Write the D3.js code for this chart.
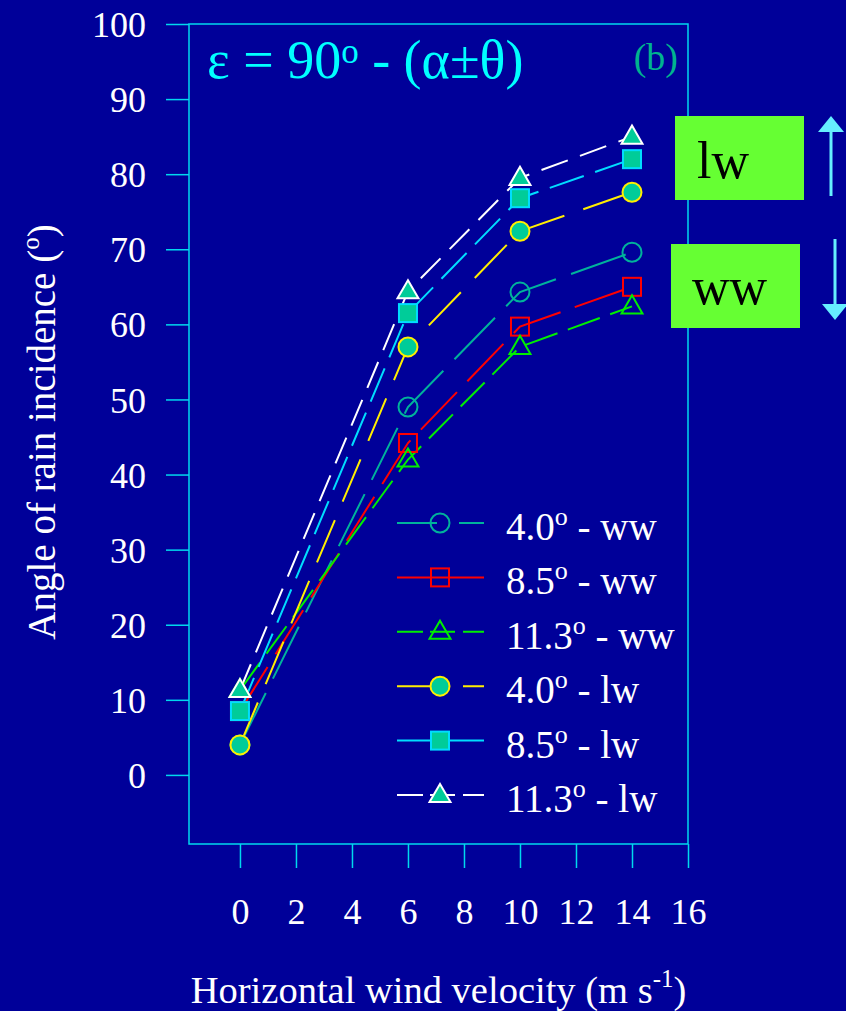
<!DOCTYPE html>
<html>
<head>
<meta charset="utf-8">
<script src="https://cdn.jsdelivr.net/npm/d3@7"></script>
<style>
  body { margin: 0; background: #000099; }
  svg text { font-family: "Liberation Serif", "Times New Roman", serif; }
</style>
</head>
<body>
<div id="chart"></div>
<script>
// data
var speeds = [0, 6, 10, 14];
var ww40 = [4.0, 49.0, 64.3, 69.6];
var ww85 = [8.5, 44.2, 59.7, 65.0];
var ww113 = [11.3, 42.0, 57.0, 62.4];
var lw40 = [4.0, 57.0, 72.4, 77.6];
var lw85 = [8.5, 61.5, 76.8, 82.0];
var lw113 = [11.3, 64.4, 79.5, 85.0];
var names = ["4.0", "8.5", "11.3", "4.0", "8.5", "11.3"];
var sides = ["ww", "ww", "ww", "lw", "lw", "lw"];
var xTicks = [0, 2, 4, 6, 8, 10, 12, 14, 16];
var yTicks = [0, 10, 20, 30, 40, 50, 60, 70, 80, 90, 100];

var W = 846, H = 1011;
var frame = {left: 189, right: 688, top: 24, bottom: 844};
var fill = "#00cc99";

var series = [
  {vals: ww40, shape: "circle", stroke: "#00b39b", fill: "none", dash: "58,16", leg: "40,22,26"},
  {vals: ww85, shape: "square", stroke: "#ff0000", fill: "none", dash: "52,15", leg: null},
  {vals: ww113, shape: "triangle", stroke: "#00ee00", fill: "none", dash: "34,11", leg: "26,7,25,8,22"},
  {vals: lw40, shape: "circle", stroke: "#ffee00", fill: fill, dash: "46,20", leg: "44,22,22"},
  {vals: lw85, shape: "square", stroke: "#00ddff", fill: fill, dash: "36,12", leg: null},
  {vals: lw113, shape: "triangle", stroke: "#ffffff", fill: fill, dash: "28,13", leg: "26,7,25,8,22"}
];

var svg = d3.select("#chart").append("svg")
  .attr("width", W).attr("height", H);

svg.append("rect").attr("width", W).attr("height", H).attr("fill", "#000099");

var x = d3.scaleLinear().domain([-1.82, 16]).range([frame.left, frame.right]);
var y = d3.scaleLinear().domain([-9.2, 100]).range([frame.bottom, frame.top]);

var axCol = "#00d8ee";

// y axis ticks, outside to the left
var yAxis = svg.append("g").attr("transform", "translate(" + frame.left + ",0)")
  .call(d3.axisLeft(y).tickValues(yTicks).tickSize(23).tickPadding(20));
yAxis.select(".domain").remove();
yAxis.selectAll("line").attr("stroke", axCol).attr("stroke-width", 1.5);
yAxis.selectAll("text").attr("fill", "#fff").style("font-size", "36px")
  .style("font-family", "Liberation Serif").attr("dy", "0.35em");

// x axis ticks, below the frame
var xAxis = svg.append("g").attr("transform", "translate(0," + frame.bottom + ")")
  .call(d3.axisBottom(x).tickValues(xTicks).tickSize(24).tickPadding(30));
xAxis.select(".domain").remove();
xAxis.selectAll("line").attr("stroke", axCol).attr("stroke-width", 1.5);
xAxis.selectAll("text").attr("fill", "#fff").style("font-size", "36px")
  .style("font-family", "Liberation Serif");

svg.append("rect")
  .attr("x", frame.left).attr("y", frame.top)
  .attr("width", frame.right - frame.left).attr("height", frame.bottom - frame.top)
  .attr("fill", "none").attr("stroke", axCol).attr("stroke-width", 1.5);

// axis titles
var xt = svg.append("text").attr("x", (frame.left + frame.right) / 2).attr("y", 1003)
  .attr("text-anchor", "middle").attr("fill", "#fff").style("font-size", "38.5px");
xt.append("tspan").text("Horizontal wind velocity (m s");
xt.append("tspan").attr("dy", -16).style("font-size", "25px").text("-1");
xt.append("tspan").attr("dy", 16).text(")");

var yt = svg.append("text").attr("transform", "translate(55,432) rotate(-90)")
  .attr("text-anchor", "middle").attr("fill", "#fff").style("font-size", "39px");
yt.append("tspan").text("Angle of rain incidence (");
yt.append("tspan").attr("dy", -16).style("font-size", "25px").text("o");
yt.append("tspan").attr("dy", 16).text(")");

// title inside frame
var tt = svg.append("text").attr("x", 207).attr("y", 78).attr("fill", "#00ffff")
  .style("font-size", "54px");
tt.append("tspan").text("\u03b5 = 90");
tt.append("tspan").attr("dy", -15).style("font-size", "35px").text("o");
tt.append("tspan").attr("dy", 15).text(" - (\u03b1\u00b1\u03b8)");

svg.append("text").attr("x", 678).attr("y", 70).attr("text-anchor", "end")
  .attr("fill", "#00b38f").style("font-size", "38px").text("(b)");

var line = d3.line().x(function(d, i) { return x(speeds[i]); }).y(function(d) { return y(d); });

function drawMarker(g, s, cx, cy) {
  if (s.shape === "circle") {
    g.append("circle").attr("cx", cx).attr("cy", cy).attr("r", 9.5)
      .attr("fill", s.fill).attr("stroke", s.stroke).attr("stroke-width", 2);
  } else if (s.shape === "square") {
    g.append("rect").attr("x", cx - 9).attr("y", cy - 9).attr("width", 18).attr("height", 18)
      .attr("fill", s.fill).attr("stroke", s.stroke).attr("stroke-width", 2);
  } else {
    var p = d3.symbol().type(d3.symbolTriangle).size(190);
    g.append("path").attr("d", p()).attr("transform", "translate(" + cx + "," + (cy + 1) + ")")
      .attr("fill", s.fill).attr("stroke", s.stroke).attr("stroke-width", 2);
  }
}

var plot = svg.append("g");
series.forEach(function(s) {
  plot.append("path").datum(s.vals).attr("d", line)
    .attr("fill", "none").attr("stroke", s.stroke).attr("stroke-width", 2)
    .attr("stroke-dasharray", s.dash);
});
series.forEach(function(s) {
  s.vals.forEach(function(v, i) { drawMarker(plot, s, x(speeds[i]), y(v)); });
});

// legend
var leg = svg.append("g");
series.forEach(function(s, i) {
  var ly = 523 + i * 54.4;
  leg.append("line").attr("x1", 397).attr("x2", 484).attr("y1", ly).attr("y2", ly)
    .attr("stroke", s.stroke).attr("stroke-width", 2)
    .attr("stroke-dasharray", s.leg);
  drawMarker(leg, s, 440, ly);
  var t = leg.append("text").attr("x", 506).attr("y", ly + 17).attr("fill", "#fff")
    .style("font-size", "39px");
  t.append("tspan").text(names[i]);
  t.append("tspan").attr("dy", -15).style("font-size", "26px").text("o");
  t.append("tspan").attr("dy", 15).text(" - " + sides[i]);
});

// side labels
var boxes = [{txt: "lw", x: 675, y: 116, tx: 697, ty: 178}, {txt: "ww", x: 671, y: 244, tx: 692, ty: 304}];
boxes.forEach(function(b) {
  svg.append("rect").attr("x", b.x).attr("y", b.y).attr("width", 129).attr("height", 84)
    .attr("fill", "#66ff33");
  svg.append("text").attr("x", b.tx).attr("y", b.ty).attr("fill", "#000")
    .style("font-size", "52px").text(b.txt);
});

var arrCol = "#66eeff";
svg.append("line").attr("x1", 831).attr("x2", 831).attr("y1", 130).attr("y2", 196)
  .attr("stroke", arrCol).attr("stroke-width", 3);
svg.append("path").attr("d", "M831,116 L844,132 L818,132 Z").attr("fill", arrCol);
svg.append("line").attr("x1", 835).attr("x2", 835).attr("y1", 239).attr("y2", 306)
  .attr("stroke", arrCol).attr("stroke-width", 3);
svg.append("path").attr("d", "M835,320 L848,304 L822,304 Z").attr("fill", arrCol);
</script>
</body>
</html>
